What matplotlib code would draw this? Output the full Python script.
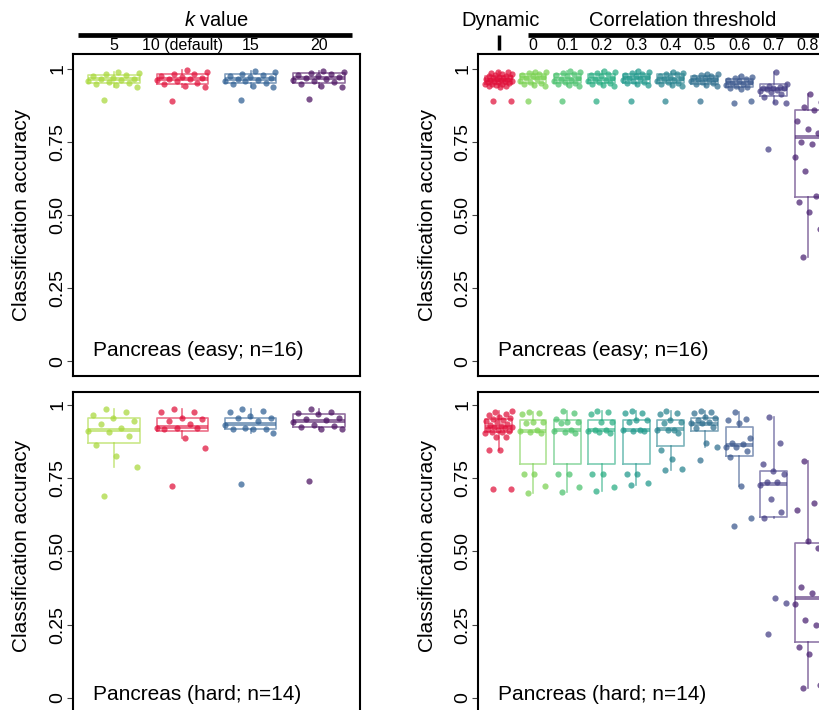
import numpy as np
import matplotlib
matplotlib.use("Agg")
import matplotlib.pyplot as plt
from matplotlib import transforms

plt.rcParams["font.family"] = ["Liberation Sans", "DejaVu Sans"]
plt.rcParams["mathtext.fontset"] = "custom"
plt.rcParams["mathtext.it"] = "Liberation Sans:italic"
plt.rcParams["mathtext.rm"] = "Liberation Sans"

# ---- data (classification accuracy per dataset) ----
k_labels = ["5", "10 (default)", "15", "20"]
thr_labels = ["", "0", "0.1", "0.2", "0.3", "0.4", "0.5", "0.6", "0.7", "0.8", "0.9"]

# Pancreas easy, k value
easy_k5 = [0.894, 0.937, 0.944, 0.950, 0.953, 0.956, 0.958, 0.962, 0.965, 0.967, 0.970, 0.974, 0.978, 0.982, 0.986, 0.990]
easy_k10 = [0.891, 0.937, 0.942, 0.948, 0.953, 0.957, 0.961, 0.964, 0.967, 0.970, 0.973, 0.977, 0.981, 0.984, 0.990, 0.995]
easy_k15 = [0.895, 0.937, 0.943, 0.950, 0.953, 0.957, 0.960, 0.963, 0.966, 0.969, 0.972, 0.975, 0.980, 0.984, 0.988, 0.993]
easy_k20 = [0.896, 0.937, 0.943, 0.949, 0.955, 0.959, 0.962, 0.965, 0.968, 0.971, 0.975, 0.978, 0.982, 0.986, 0.990, 0.994]
# box stats: q1, median, q3, whisker low, whisker high
easy_k_box = [(0.952, 0.966, 0.979, 0.937, 0.990), (0.949, 0.966, 0.983, 0.937, 0.995),
              (0.951, 0.965, 0.983, 0.937, 0.993), (0.953, 0.968, 0.985, 0.937, 0.994)]

# Pancreas hard, k value
hard_k5 = [0.689, 0.787, 0.826, 0.863, 0.895, 0.909, 0.911, 0.920, 0.936, 0.946, 0.957, 0.965, 0.977, 0.985]
hard_k10 = [0.724, 0.854, 0.886, 0.917, 0.920, 0.920, 0.920, 0.934, 0.945, 0.952, 0.957, 0.975, 0.975, 0.985]
hard_k15 = [0.730, 0.905, 0.917, 0.917, 0.917, 0.920, 0.930, 0.945, 0.955, 0.957, 0.962, 0.975, 0.979, 0.985]
hard_k20 = [0.739, 0.917, 0.917, 0.924, 0.927, 0.932, 0.941, 0.947, 0.952, 0.957, 0.968, 0.973, 0.977, 0.985]
hard_k_box = [(0.871, 0.915, 0.955, 0.787, 0.985), (0.912, 0.926, 0.957, 0.886, 0.985),
              (0.917, 0.935, 0.957, 0.905, 0.985), (0.924, 0.945, 0.968, 0.917, 0.985)]

# Pancreas easy, dynamic + correlation thresholds 0 .. 0.8
easy_dyn = [0.891, 0.891, 0.937, 0.940, 0.943, 0.945, 0.947, 0.949, 0.950, 0.952, 0.954, 0.955, 0.957, 0.958,
            0.960, 0.961, 0.962, 0.963, 0.965, 0.966, 0.968, 0.970, 0.971, 0.973, 0.975, 0.977, 0.979, 0.981,
            0.983, 0.985, 0.988, 0.991]
easy_t0 = [0.890, 0.942, 0.946, 0.950, 0.953, 0.956, 0.960, 0.964, 0.968, 0.971, 0.975, 0.979, 0.982, 0.985, 0.988, 0.991]
easy_t1 = [0.890, 0.940, 0.944, 0.949, 0.952, 0.955, 0.959, 0.962, 0.966, 0.970, 0.974, 0.978, 0.982, 0.985, 0.989, 0.993]
easy_t2 = [0.890, 0.941, 0.945, 0.950, 0.953, 0.956, 0.960, 0.963, 0.967, 0.970, 0.974, 0.978, 0.982, 0.986, 0.990, 0.993]
easy_t3 = [0.891, 0.944, 0.948, 0.951, 0.955, 0.958, 0.962, 0.966, 0.969, 0.972, 0.976, 0.979, 0.982, 0.985, 0.988, 0.993]
easy_t4 = [0.891, 0.940, 0.945, 0.949, 0.952, 0.956, 0.960, 0.963, 0.966, 0.969, 0.973, 0.977, 0.981, 0.984, 0.987, 0.990]
easy_t5 = [0.891, 0.940, 0.944, 0.948, 0.951, 0.954, 0.958, 0.961, 0.964, 0.966, 0.969, 0.972, 0.975, 0.978, 0.981, 0.984]
easy_t6 = [0.885, 0.891, 0.932, 0.936, 0.939, 0.942, 0.946, 0.950, 0.953, 0.956, 0.959, 0.962, 0.965, 0.968, 0.971, 0.975]
easy_t7 = [0.726, 0.885, 0.886, 0.903, 0.914, 0.920, 0.925, 0.928, 0.930, 0.933, 0.936, 0.936, 0.939, 0.943, 0.950, 0.990]
easy_t8 = [0.357, 0.452, 0.511, 0.543, 0.566, 0.651, 0.700, 0.742, 0.750, 0.780, 0.793, 0.820, 0.860, 0.871, 0.886, 0.914]
easy_thr_box = [(0.950, 0.962, 0.977, 0.937, 0.991), (0.951, 0.968, 0.983, 0.942, 0.991),
                (0.951, 0.965, 0.983, 0.940, 0.993), (0.951, 0.966, 0.983, 0.941, 0.993),
                (0.951, 0.968, 0.983, 0.944, 0.993), (0.951, 0.966, 0.982, 0.940, 0.990),
                (0.949, 0.963, 0.977, 0.940, 0.984), (0.937, 0.953, 0.966, 0.932, 0.975),
                (0.908, 0.930, 0.949, 0.885, 0.988), (0.560, 0.766, 0.860, 0.357, 0.914)]

# Pancreas hard, dynamic + correlation thresholds 0 .. 0.8
hard_dyn = [0.713, 0.713, 0.846, 0.847, 0.890, 0.890, 0.903, 0.906, 0.909, 0.912, 0.915, 0.918, 0.920, 0.923,
            0.926, 0.928, 0.931, 0.935, 0.940, 0.944, 0.948, 0.951, 0.955, 0.960, 0.965, 0.970, 0.975, 0.980]
hard_t0 = [0.701, 0.723, 0.763, 0.763, 0.903, 0.909, 0.912, 0.914, 0.937, 0.940, 0.940, 0.969, 0.974, 0.977]
hard_t1 = [0.704, 0.721, 0.763, 0.763, 0.903, 0.909, 0.912, 0.915, 0.937, 0.940, 0.943, 0.951, 0.972, 0.980]
hard_t2 = [0.706, 0.721, 0.763, 0.763, 0.903, 0.909, 0.912, 0.915, 0.915, 0.943, 0.943, 0.970, 0.977, 0.979]
hard_t3 = [0.725, 0.735, 0.763, 0.764, 0.912, 0.912, 0.915, 0.915, 0.943, 0.949, 0.949, 0.972, 0.972, 0.980]
hard_t4 = [0.778, 0.780, 0.814, 0.846, 0.905, 0.915, 0.915, 0.915, 0.938, 0.940, 0.947, 0.970, 0.972, 0.980]
hard_t5 = [0.813, 0.858, 0.869, 0.920, 0.926, 0.937, 0.937, 0.943, 0.949, 0.957, 0.960, 0.972, 0.977, 0.980]
hard_t6 = [0.588, 0.613, 0.723, 0.821, 0.844, 0.858, 0.858, 0.867, 0.869, 0.887, 0.937, 0.947, 0.951, 0.977]
hard_t7 = [0.217, 0.325, 0.341, 0.613, 0.636, 0.679, 0.727, 0.738, 0.738, 0.765, 0.776, 0.797, 0.869, 0.958]
hard_t8 = [0.035, 0.044, 0.149, 0.175, 0.249, 0.266, 0.322, 0.357, 0.380, 0.511, 0.534, 0.642, 0.664, 0.809]
hard_thr_box = [(0.909, 0.926, 0.951, 0.846, 0.980), (0.797, 0.912, 0.947, 0.701, 0.977),
                (0.797, 0.915, 0.949, 0.704, 0.980), (0.797, 0.915, 0.947, 0.706, 0.979),
                (0.800, 0.915, 0.949, 0.725, 0.980), (0.861, 0.917, 0.949, 0.778, 0.980),
                (0.912, 0.935, 0.957, 0.858, 0.980), (0.826, 0.864, 0.926, 0.723, 0.977),
                (0.619, 0.730, 0.773, 0.613, 0.958), (0.192, 0.340, 0.528, 0.035, 0.809)]

k_colors = ["#a8d83a", "#e0103a", "#2e5f93", "#4a1060"]
thr_colors = ["#e0103a"] + [matplotlib.colors.to_hex(plt.cm.viridis(v)) for v in np.linspace(0.8, 0.0, 10)]

W, H = 819, 710
fig = plt.figure(figsize=(W / 100, H / 100), dpi=100)


def add_axes_px(left, top, right, bottom):
    return fig.add_axes([left / W, 1 - bottom / H, (right - left) / W, (bottom - top) / H])


def jitter(n, half):
    # deterministic spread of points across the box width
    return np.array([((i * 0.618034 + 0.31) % 1.0) * 2 - 1 for i in range(n)]) * half


def panel(ax, groups, boxes, colors, width, xlim, ylim, name, name_y, ylab_x, ylab_y):
    stats = [dict(q1=b[0], med=b[1], q3=b[2], whislo=b[3], whishi=b[4], fliers=[]) for b in boxes]
    art = ax.bxp(stats, positions=range(len(stats)), widths=width, showcaps=False,
                 showfliers=False, patch_artist=False, manage_ticks=False)
    for i, c in enumerate(colors[:len(stats)]):
        art["boxes"][i].set(color=c, alpha=0.6, linewidth=1.2)
        art["medians"][i].set(color=c, alpha=0.6, linewidth=2.8, solid_capstyle="butt")
        for w in art["whiskers"][2 * i:2 * i + 2]:
            w.set(color=c, alpha=0.6, linewidth=1.2)
    for i, vals in enumerate(groups):
        xs = i + jitter(len(vals), width * 0.52)
        ax.scatter(xs, vals, s=20, color=colors[i], alpha=0.72, linewidths=0, zorder=3)

    ax.set_xlim(*xlim)
    ax.set_ylim(*ylim)
    ax.set_yticks([0, 0.25, 0.5, 0.75, 1])
    ax.set_yticklabels(["0", "0.25", "0.50", "0.75", "1"])
    ax.tick_params(axis="y", length=4, width=0.8, color="#444444", pad=1, labelsize=14)
    for lab in ax.get_yticklabels():
        lab.set_rotation(90)
        lab.set_va("center")
    ax.tick_params(axis="x", bottom=False, top=False, labelbottom=False, labeltop=False, length=0)
    for s in ax.spines.values():
        s.set_linewidth(1.5)
        s.set_color("black")
    ax.text(ylab_x, ylab_y, "Classification accuracy", transform=ax.transAxes, rotation=90,
            ha="center", va="center", fontsize=15)
    ax.annotate(name, xy=(0, name_y), xycoords=("axes fraction", "data"),
                xytext=(14.5, 0), textcoords="offset points", ha="left", va="baseline", fontsize=15)


def header_labels(ax, labels):
    ax.set_xticks(range(len(labels)))
    ax.set_xticklabels(labels, fontsize=11.5)
    ax.tick_params(axis="x", labeltop=True, pad=0.5)


# panel positions in pixels
ax_lt = add_axes_px(73, 54, 360, 376)
ax_lb = add_axes_px(73, 392.3, 360, 712.6)
ax_rt = add_axes_px(478, 54, 863, 376)
ax_rb = add_axes_px(478, 392.3, 863, 712.6)

panel(ax_lt, [easy_k5, easy_k10, easy_k15, easy_k20], easy_k_box, k_colors, 0.75,
      (-0.6, 3.6), (-0.051, 1.051), "Pancreas (easy; n=16)", 0.017, -0.178, 0.5)
panel(ax_lb, [hard_k5, hard_k10, hard_k15, hard_k20], hard_k_box, k_colors, 0.75,
      (-0.6, 3.6), (-0.05, 1.043), "Pancreas (hard; n=14)", -0.007, -0.178, 0.52)
panel(ax_rt, [easy_dyn, easy_t0, easy_t1, easy_t2, easy_t3, easy_t4, easy_t5, easy_t6, easy_t7, easy_t8],
      easy_thr_box, thr_colors, 0.78, (-0.6, 10.6), (-0.051, 1.051), "Pancreas (easy; n=16)", 0.017, -0.130, 0.5)
panel(ax_rb, [hard_dyn, hard_t0, hard_t1, hard_t2, hard_t3, hard_t4, hard_t5, hard_t6, hard_t7, hard_t8],
      hard_thr_box, thr_colors, 0.78, (-0.6, 10.6), (-0.05, 1.043), "Pancreas (hard; n=14)", -0.007, -0.130, 0.52)

header_labels(ax_lt, k_labels)
header_labels(ax_rt, thr_labels)

# header bars and titles above the top panels
bar_y = 1.059
title_y = 1.087
tl = transforms.blended_transform_factory(ax_lt.transData, ax_lt.transAxes)
ax_lt.plot([-0.524, 3.49], [bar_y, bar_y], transform=tl, clip_on=False, color="black", lw=3.4,
           solid_capstyle="butt")
ax_lt.text(1.5, title_y, "$k$ value", transform=tl, ha="center", va="baseline", fontsize=14.5)

tr = transforms.blended_transform_factory(ax_rt.transData, ax_rt.transAxes)
ax_rt.plot([0.843, 9.85], [bar_y, bar_y], transform=tr, clip_on=False, color="black", lw=3.4,
           solid_capstyle="butt")
ax_rt.plot([0, 0], [1.0124, bar_y], transform=tr, clip_on=False, color="black", lw=2.5,
           solid_capstyle="butt")
ax_rt.text(0.05, title_y, "Dynamic", transform=tr, ha="center", va="baseline", fontsize=14.5)
ax_rt.text(5.35, title_y, "Correlation threshold", transform=tr, ha="center", va="baseline", fontsize=14.5)

fig.savefig("out.png", dpi=100)
